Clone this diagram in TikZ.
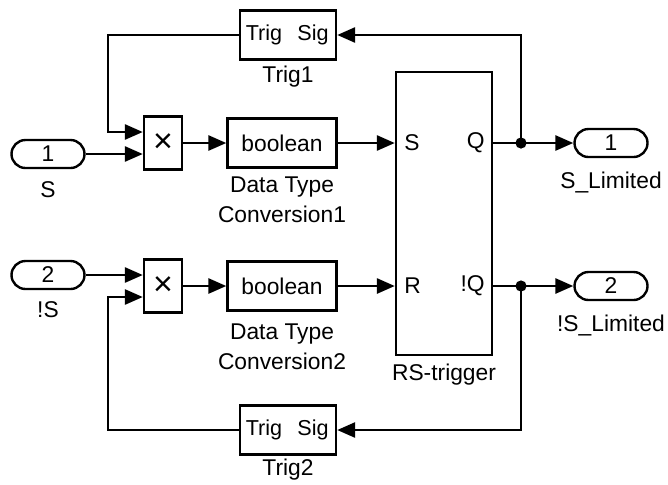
\documentclass[tikz,border=0pt]{standalone}
\usepackage{fontspec}
\setmainfont{Liberation Sans}
\usetikzlibrary{arrows.meta}

\begin{document}
\begin{tikzpicture}[x=0.5pt, y=-0.5pt,
        font=\fontsize{11.4}{13}\selectfont,
        block/.style={draw, line width=1.2pt, fill=white, inner sep=0pt},
        port/.style={block, rounded corners=7pt, minimum width=36.5pt, minimum height=14pt},
        trigbox/.style={block, minimum width=48pt, minimum height=24.5pt},
        mult/.style={block, minimum width=19pt, minimum height=26.5pt, font=\fontsize{17}{17}\selectfont},
        conv/.style={block, minimum width=54.5pt, minimum height=24.5pt},
        rsbox/.style={block, minimum width=48pt, minimum height=141.5pt},
        caption/.style={inner sep=0pt, align=center},
        small/.style={inner sep=0pt, font=\fontsize{10.8}{12}\selectfont},
        flow/.style={-{Triangle[length=9pt, width=7.5pt]}, line width=1.4pt},
        wire/.style={line width=1.4pt}
    ]
        \useasboundingbox (0,0) rectangle (668,484);

        % blocks
        \node[port] (in1) at (48,154) {1};
        \node[port] (in2) at (48,275) {2};
        \node[mult] (mult1) at (163,143) {×};
        \node[mult] (mult2) at (163,286) {×};
        \node[conv] (conv1) at (282,143) {boolean};
        \node[conv] (conv2) at (282,286) {boolean};
        \node[rsbox] (rs) at (444,213.5) {};
        \node[trigbox] (trig1) at (288,35) {};
        \node[trigbox] (trig2) at (288,430) {};
        \node[port] (out1) at (611,143) {1};
        \node[port] (out2) at (611,286) {2};

        % texts inside
        \node[small] (t1trig) at (264,35) {Trig};
        \node[small] (t1sig) at (313,35) {Sig};
        \node[small] (t2trig) at (264,430) {Trig};
        \node[small] (t2sig) at (313,430) {Sig};
        \node[inner sep=0pt, anchor=west] (rsS) at (404,143) {S};
        \node[inner sep=0pt, anchor=east] (rsQ) at (485,143) {Q};
        \node[inner sep=0pt, anchor=west] (rsR) at (404,286) {R};
        \node[inner sep=0pt, anchor=east] (rsnQ) at (485,286) {!Q};

        % captions
        \node[caption] (capin1) at (48,190) {S};
        \node[caption] (capin2) at (48,310) {!S};
        \node[caption] (captrig1) at (288,77) {Trig1};
        \node[caption] (captrig2) at (288,470) {Trig2};
        \node[caption] (capconv1) at (282,200) {Data Type\\[2pt]Conversion1};
        \node[caption] (capconv2) at (282,347) {Data Type\\[2pt]Conversion2};
        \node[caption] (capout1) at (611,182) {S\_Limited};
        \node[caption] (capout2) at (611,325) {!S\_Limited};
        \node[caption] (caprs) at (444,375) {RS-trigger};

        % bends and branch points
        \coordinate (k1) at (108,132);
        \coordinate (k2) at (108,297);
        \coordinate (j1) at (521,143);
        \coordinate (j2) at (521,286);

        % signals
        \draw[flow] (in1.east) -- (mult1.west |- in1.east);
        \draw[flow] (in2.east) -- (mult2.west |- in2.east);
        \draw[flow] (trig1.west) -| (k1) -- (k1 -| mult1.west);
        \draw[flow] (trig2.west) -| (k2) -- (k2 -| mult2.west);
        \draw[flow] (mult1.east) -- (conv1.west);
        \draw[flow] (mult2.east) -- (conv2.west);
        \draw[flow] (conv1.east) -- (rs.west |- conv1.east);
        \draw[flow] (conv2.east) -- (rs.west |- conv2.east);
        \draw[flow] (rs.east |- j1) -- (out1.west);
        \draw[flow] (rs.east |- j2) -- (out2.west);
        \draw[flow] (j1) |- (trig1.east);
        \draw[flow] (j2) |- (trig2.east);
        \fill (j1) circle (2.8pt);
        \fill (j2) circle (2.8pt);
    \end{tikzpicture}
\end{document}
